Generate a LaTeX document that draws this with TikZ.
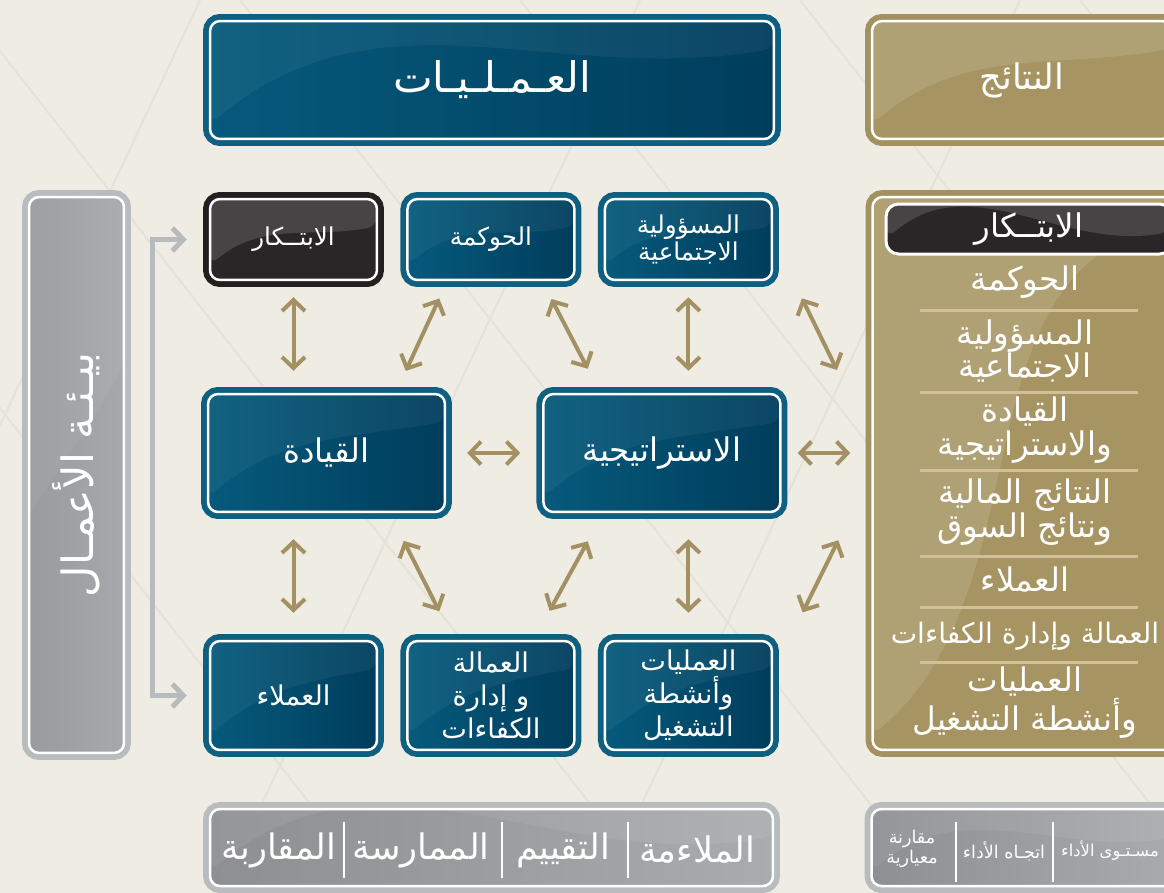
\documentclass[tikz,border=0pt]{standalone}
\usepackage{fontspec}
\usetikzlibrary{positioning,arrows.meta}
\newfontfamily\arabicfont[Script=Arabic]{DejaVu Sans}
\TeXXeTstate=1
\newcommand\artxt[1]{\beginR #1\endR}
\newcommand\hdfont{\arabicfont\fontsize{24}{28}\selectfont}
\newcommand\outfont{\arabicfont\fontsize{20}{24}\selectfont}
\newcommand\envfont{\arabicfont\fontsize{24.5}{28}\selectfont}
\newcommand\boxfont{\arabicfont\fontsize{14}{15.5}\selectfont}
\newcommand\lowfont{\arabicfont\fontsize{15.5}{18.7}\selectfont}
\newcommand\midfont{\arabicfont\fontsize{18.5}{22}\selectfont}
\newcommand\listfont{\arabicfont\fontsize{18.5}{19}\selectfont}
\newcommand\barfont{\arabicfont\fontsize{20}{24}\selectfont}
\newcommand\smfont{\arabicfont\fontsize{10}{9.8}\selectfont}

\definecolor{bgpaper}{HTML}{EFECE4}
\definecolor{bgline}{HTML}{E6E2D7}
\definecolor{tealrim}{HTML}{0F6080}
\definecolor{tealL}{HTML}{065A7C}
\definecolor{tealR}{HTML}{003D5C}
\definecolor{inkrim}{HTML}{231F20}
\definecolor{inkfill}{HTML}{2A2627}
\definecolor{goldrim}{HTML}{A3915F}
\definecolor{goldfill}{HTML}{A69462}
\definecolor{goldsep}{HTML}{D3BE9A}
\definecolor{greyrim}{HTML}{B9BCBE}
\definecolor{greyL}{HTML}{8E8F92}
\definecolor{greyR}{HTML}{A9ABAE}
\definecolor{envL}{HTML}{999B9E}
\definecolor{envR}{HTML}{A6A8AB}
\definecolor{arrowgold}{HTML}{A39163}
\definecolor{envgrey}{HTML}{B8BBBD}

\tikzset{
  gloss/.style={path picture={\fill[white,opacity=#1]
      (path picture bounding box.north west) -- (path picture bounding box.north east)
      -- ([yshift=-0.55cm]path picture bounding box.north east)
      to[out=190,in=40] ([yshift=0.3cm]path picture bounding box.south west) -- cycle;}},
  rim/.style={preaction={draw=#1,line width=0.28cm}},
  panel/.style={rounded corners=0.2cm,draw=white,line width=0.05cm,text=white,
      align=center,inner sep=0pt},
  opsbox/.style={panel,rim=tealrim,left color=tealL,right color=tealR,gloss=0.05},
  inkbox/.style={panel,rim=inkrim,fill=inkfill,gloss=0.14},
  goldbox/.style={panel,rim=goldrim,fill=goldfill,gloss=0.12},
  greybox/.style={panel,rim=greyrim,left color=greyL,right color=greyR,gloss=0.07},
  envbox/.style={panel,rim=greyrim,left color=envL,right color=envR,gloss=0.05},
  item/.style={text=white,align=center,font=\listfont},
  sepline/.style={draw=goldsep,line width=0.06cm},
  barsep/.style={draw=white,line width=0.03cm}
}

\begin{document}
\begin{tikzpicture}[x=0.02cm,y=-0.02cm,
    >={Straight Barb[length=0.22cm,width=0.46cm]},
    link/.style={<->,draw=arrowgold,line width=0.08cm},
    envlink/.style={<->,draw=envgrey,line width=0.1cm}]
  \useasboundingbox (0,0) rectangle (1164,893);
  \clip (0,0) rectangle (1164,893);
  \fill[bgpaper] (0,0) rectangle (1164,893);
  \foreach \x in {-320,-40,240,520,800,1080}
    \draw[bgline,line width=0.04cm] (\x,0) -- ++(700,893);
  \foreach \x in {200,640,1020}
    \draw[bgline,line width=0.04cm] (\x,0) -- ++(-420,893);

  % headers
  \node[opsbox,minimum width=11.28cm,minimum height=2.36cm,font=\hdfont] (ops) at (492,80) {\artxt{العـمـلـيـات}};
  \node[goldbox,minimum width=6cm,minimum height=2.36cm,font=\outfont] (out) at (1022,80) {\artxt{النتائج}};

  % business environment
  \node[envbox,rotate=90,minimum width=11.12cm,minimum height=1.9cm,font=\envfont] (env) at (76.5,475) {\artxt{بيـئـة الأعمـال}};

  % criteria
  \node[inkbox,minimum width=3.34cm,minimum height=1.62cm,font=\boxfont] (inn) at (293.5,239.5) {\artxt{الابتــكار}};
  \node[opsbox,minimum width=3.34cm,minimum height=1.62cm,font=\boxfont,right=0.56cm of inn] (gov) {\artxt{الحوكمة}};
  \node[opsbox,minimum width=3.34cm,minimum height=1.62cm,font=\boxfont,right=0.56cm of gov] (csr) {\artxt{المسؤولية}\\\artxt{الاجتماعية}};
  \node[opsbox,minimum width=4.74cm,minimum height=2.36cm,font=\midfont] (lead) at (326.5,453) {\artxt{القيادة}};
  \node[opsbox,minimum width=4.74cm,minimum height=2.36cm,font=\midfont,right=1.92cm of lead] (strat) {\artxt{الاستراتيجية}};
  \node[opsbox,minimum width=3.34cm,minimum height=2.18cm,font=\lowfont] (cust) at (293.5,695.5) {\artxt{العملاء}};
  \node[opsbox,minimum width=3.34cm,minimum height=2.18cm,font=\lowfont,right=0.56cm of cust] (hr) {\artxt{العمالة}\\\artxt{و إدارة}\\\artxt{الكفاءات}};
  \node[opsbox,minimum width=3.34cm,minimum height=2.18cm,font=\lowfont,right=0.56cm of hr] (opsx) {\artxt{العمليات}\\\artxt{وأنشطة}\\\artxt{التشغيل}};

  % results
  \node[goldbox,minimum width=6.14cm,minimum height=11.06cm] (res) at (1026,473.5) {};
  \node[panel,fill=inkfill,gloss=0.14,line width=0.06cm,rounded corners=0.25cm,
        minimum width=5.72cm,minimum height=1cm,font=\listfont] (r1) at (1029,229) {\artxt{الابتــكار}};
  \node[item] (r2) at (1025,282) {\artxt{الحوكمة}};
  \node[item] (r3) at (1025,351) {\artxt{المسؤولية}\\\artxt{الاجتماعية}};
  \node[item] (r4) at (1025,430) {\artxt{القيادة}\\\artxt{والاستراتيجية}};
  \node[item] (r5) at (1025,512) {\artxt{النتائج المالية}\\\artxt{ونتائج السوق}};
  \node[item] (r6) at (1025,580) {\artxt{العملاء}};
  \node[item,font=\arabicfont\fontsize{16}{19}\selectfont] (r7) at (1025,636) {\artxt{العمالة وإدارة الكفاءات}};
  \node[item] (r8) at (1025,703) {\artxt{العمليات}\\\artxt{وأنشطة التشغيل}};
  \foreach \y in {310,392,470,556,607,662}
    \draw[sepline] (920,\y) -- (1138,\y);

  % assessment bars
  \node[greybox,minimum width=11.26cm,minimum height=1.54cm] (bar1) at (491.5,847.5) {};
  \node[text=white,font=\barfont] (b1) at (697,850) {\artxt{الملاءمة}};
  \node[text=white,font=\barfont] (b2) at (563,850) {\artxt{التقييم}};
  \node[text=white,font=\barfont] (b3) at (421,850) {\artxt{الممارسة}};
  \node[text=white,font=\barfont] (b4) at (279,850) {\artxt{المقاربة}};
  \foreach \x in {344,502,628}
    \draw[barsep] (\x,822) -- (\x,878);
  \node[greybox,minimum width=6.18cm,minimum height=1.54cm] (bar2) at (1026,847.5) {};
  \node[text=white,font=\smfont,align=center] (c1) at (912,849) {\artxt{مقارنة}\\\artxt{معيارية}};
  \node[text=white,font=\smfont] (c2) at (1004,851) {\artxt{اتجـاه الأداء}};
  \node[text=white,font=\arabicfont\fontsize{9.3}{9.8}\selectfont] (c3) at (1110,851) {\artxt{مسـتـوى الأداء}};
  \foreach \x in {956,1053}
    \draw[barsep] (\x,822) -- (\x,882);

  % environment bracket
  \coordinate (brk) at (152,465);
  \draw[envlink,shorten <=0.44cm,shorten >=0.44cm] (inn.west) -| (brk) |- (cust.west);

  % links between the criteria
  \draw[link,shorten <=0.32cm,shorten >=0.44cm] (inn.south) -- (inn.south |- lead.north);
  \draw[link,shorten <=0.38cm,shorten >=0.48cm] ([xshift=0.82cm]gov.south west) -- ([xshift=3.78cm]lead.north west);
  \draw[link,shorten <=0.4cm,shorten >=0.54cm] ([xshift=2.72cm]gov.south west) -- ([xshift=1.16cm]strat.north west);
  \draw[link,shorten <=0.32cm,shorten >=0.44cm] (csr.south) -- (csr.south |- strat.north);
  \draw[link,shorten <=1.31cm,shorten >=1.56cm] (csr.east) -- ([yshift=0.67cm]res.west);
  \draw[link,shorten <=0.42cm,shorten >=0.44cm] (lead.east) -- (strat.west);
  \draw[link,shorten <=0.32cm,shorten >=0.42cm] (strat.east) -- (strat.east -| res.west);
  \draw[link,shorten <=0.52cm,shorten >=0.54cm] (cust.north |- lead.south) -- (cust.north);
  \draw[link,shorten <=0.62cm,shorten >=0.64cm] ([xshift=3.66cm]lead.south west) -- ([xshift=0.95cm]hr.north west);
  \draw[link,shorten <=0.64cm,shorten >=0.66cm] ([xshift=1.22cm]strat.south west) -- ([xshift=2.55cm]hr.north west);
  \draw[link,shorten <=0.52cm,shorten >=0.54cm] (opsx.north |- strat.south) -- (opsx.north);
  \draw[link,shorten <=1.33cm,shorten >=1.49cm] ([yshift=0.47cm]opsx.east) -- (res.west);
\end{tikzpicture}
\end{document}
